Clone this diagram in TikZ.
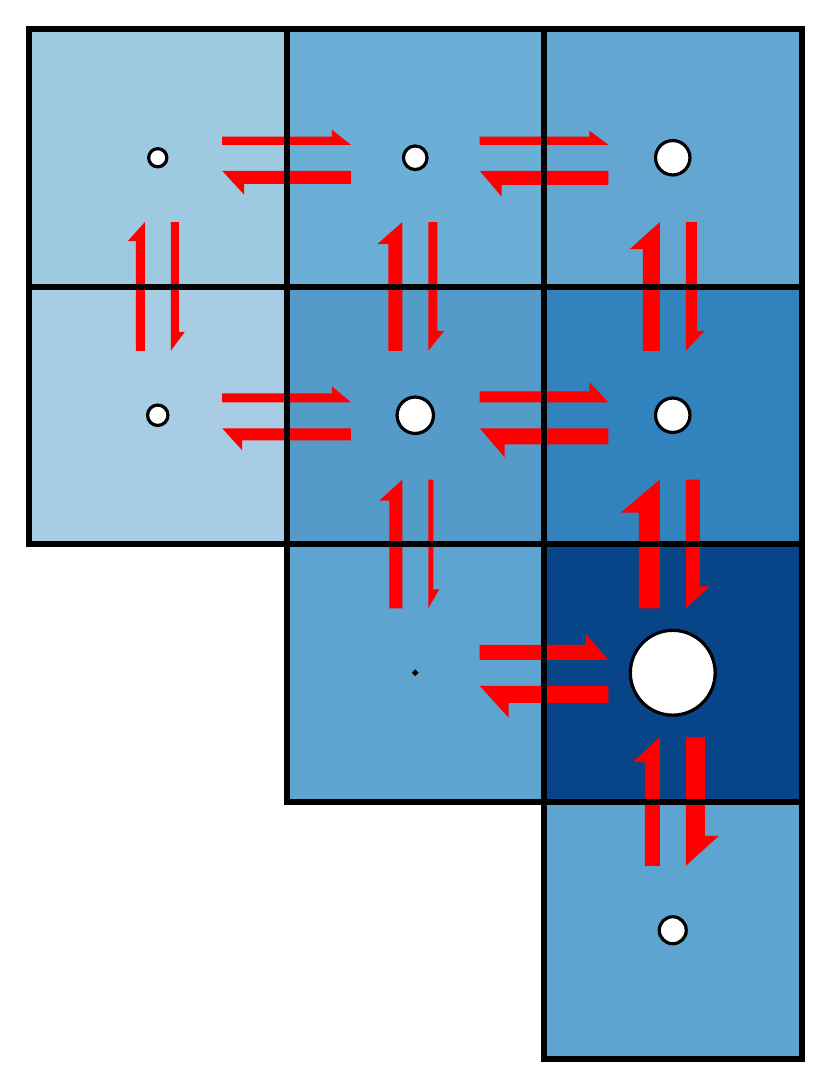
\documentclass[tikz,border=0pt]{standalone}
\usetikzlibrary{calc}
\definecolor{b00}{RGB}{158,202,225}
\definecolor{b10}{RGB}{107,174,214}
\definecolor{b20}{RGB}{98,166,209}
\definecolor{b01}{RGB}{167,204,228}
\definecolor{b11}{RGB}{85,155,202}
\definecolor{b21}{RGB}{49,130,189}
\definecolor{b12}{RGB}{94,164,208}
\definecolor{b22}{RGB}{8,68,136}
\definecolor{b23}{RGB}{94,164,208}
\tikzset{
  cell/.style={rectangle, minimum size=257.5pt, inner sep=0pt, outer sep=0pt, draw=none},
  border/.style={draw=black, line width=6pt},
  site/.style={circle, draw=black, fill=white, line width=3.2pt, inner sep=0pt, outer sep=0pt},
  redarrow/.style={fill=red, draw=none},
}
% horizontal pair: #1 x-centre left cell, #2 x-centre right cell, #3 y-centre,
% #4-#6 rightward (w,H,L), #7-#9 leftward (w,H,L)
\newcommand\hpair[9]{%
  \fill[redarrow] (#1+64.4,#3-13) -- (#1+64.4,#3-13-#4) -- (#2-64.4-#6,#3-13-#4)
     -- (#2-64.4-#6,#3-13-#5) -- (#2-64.4,#3-13) -- cycle;
  \fill[redarrow] (#2-64.4,#3+13) -- (#2-64.4,#3+13+#7) -- (#1+64.4+#9,#3+13+#7)
     -- (#1+64.4+#9,#3+13+#8) -- (#1+64.4,#3+13) -- cycle;
}
% vertical pair: #1 y-centre upper cell, #2 y-centre lower cell, #3 x-centre,
% #4-#6 upward (w,H,L), #7-#9 downward (w,H,L)
\newcommand\vpair[9]{%
  \fill[redarrow] (#3-13,#2-64.4) -- (#3-13-#4,#2-64.4) -- (#3-13-#4,#1+64.4+#6)
     -- (#3-13-#5,#1+64.4+#6) -- (#3-13,#1+64.4) -- cycle;
  \fill[redarrow] (#3+13,#1+64.4) -- (#3+13+#7,#1+64.4) -- (#3+13+#7,#2-64.4-#9)
     -- (#3+13+#8,#2-64.4-#9) -- (#3+13,#2-64.4) -- cycle;
}
\begin{document}
\begin{tikzpicture}[x=1pt,y=-1pt]
\useasboundingbox (0,0) rectangle (830,1089);
\def\ca{157.75}\def\cb{415.25}\def\cc{672.75}\def\cd{930.25}
% cell fills
\node[cell, fill=b00] (c00) at (\ca,\ca) {};
\node[cell, fill=b10] (c10) at (\cb,\ca) {};
\node[cell, fill=b20] (c20) at (\cc,\ca) {};
\node[cell, fill=b01] (c01) at (\ca,\cb) {};
\node[cell, fill=b11] (c11) at (\cb,\cb) {};
\node[cell, fill=b21] (c21) at (\cc,\cb) {};
\node[cell, fill=b12] (c12) at (\cb,\cc) {};
\node[cell, fill=b22] (c22) at (\cc,\cc) {};
\node[cell, fill=b23] (c23) at (\cc,\cd) {};
% exchange arrows
\hpair{\ca}{\cb}{\ca}{8}{15}{19}{13}{24}{22}
\hpair{\cb}{\cc}{\ca}{8}{14}{19}{14}{26}{22}
\hpair{\ca}{\cb}{\cb}{9}{16}{19}{12}{22}{20}
\hpair{\cb}{\cc}{\cb}{11}{20}{19}{16}{29}{25}
\hpair{\cb}{\cc}{\cc}{15}{26}{23}{17}{32}{29}
\vpair{\ca}{\cb}{\ca}{9}{17}{19}{8}{14}{19}
\vpair{\ca}{\cb}{\cb}{14}{25}{22}{9}{16}{20}
\vpair{\ca}{\cb}{\cc}{17}{30}{27}{11}{19}{20}
\vpair{\cb}{\cc}{\cb}{13}{23}{21}{5}{11}{19}
\vpair{\cb}{\cc}{\cc}{21}{39}{33}{14}{24}{22}
\vpair{\cc}{\cd}{\cc}{15}{27}{25}{19}{33}{30}
% cell borders
\foreach \n in {c00,c10,c20,c01,c11,c21,c12,c22,c23}
  \draw[border] (\n.north west) rectangle (\n.south east);
% sites
\node[site, minimum size=18.2pt] (s00) at (c00) {};
\node[site, minimum size=23.6pt] (s10) at (c10) {};
\node[site, minimum size=34.4pt] (s20) at (c20) {};
\node[site, minimum size=20.4pt] (s01) at (c01) {};
\node[site, minimum size=36.4pt] (s11) at (c11) {};
\node[site, minimum size=34.4pt] (s21) at (c21) {};
\node[site, minimum size=2.2pt]  (s12) at (c12) {};
\node[site, minimum size=84.8pt] (s22) at (c22) {};
\node[site, minimum size=27pt]   (s23) at (c23) {};
\end{tikzpicture}
\end{document}
